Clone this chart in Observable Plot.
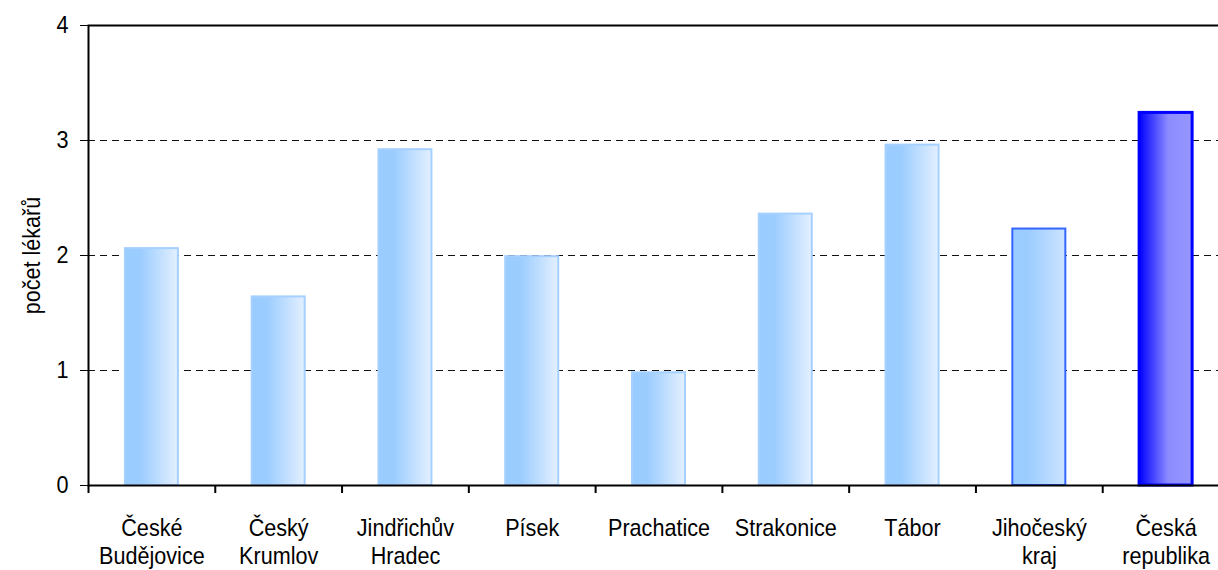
<!DOCTYPE html>
<html><head><meta charset="utf-8">
<script src="https://cdn.jsdelivr.net/npm/d3@7"></script>
<script src="https://cdn.jsdelivr.net/npm/@observablehq/plot@0.6"></script>
<style>body{margin:0;background:#fff;overflow:hidden}</style>
</head><body><div id="chart"></div>
<script>
const categories = ["České Budějovice","Český Krumlov","Jindřichův Hradec","Písek","Prachatice","Strakonice","Tábor","Jihočeský kraj","Česká republika"];
const labels = ["České\nBudějovice","Český\nKrumlov","Jindřichův\nHradec","Písek","Prachatice","Strakonice","Tábor","Jihočeský\nkraj","Česká\nrepublika"];
const values = [2.06, 1.64, 2.92, 1.99, 0.98, 2.36, 2.96, 2.23, 3.24];
const groups = ["okres","okres","okres","okres","okres","okres","okres","kraj","stat"];
const yTicks = [0, 1, 2, 3, 4];
const gridTicks = [1, 2, 3];
const yLabel = "počet lékařů";

const data = categories.map((c, i) => ({category: c, label: labels[i], value: values[i], group: groups[i]}));
const labelOf = new Map(categories.map((c, i) => [c, labels[i]]));

const FONT = "'Liberation Sans',Arial,sans-serif";
const NARROW = 0.9;
const FS = 24;
const W = 1218, H = 570;
const xRange = [88, 1229];
const step = (xRange[1] - xRange[0]) / categories.length;
const barW = 53;
const inset = (step - barW) / 2;

function defs() {
  const d = d3.create("svg:defs");
  const mk = (id, stops) => {
    const g = d.append("linearGradient").attr("id", id).attr("x1", 0).attr("x2", 1).attr("y1", 0).attr("y2", 0);
    for (const [o, c] of stops) g.append("stop").attr("offset", o).attr("stop-color", c);
  };
  mk("gOkres", [[0, "#99CCFF"], [0.3, "#9CCDFF"], [1, "#E4F0FF"]]);
  mk("gKraj", [[0, "#99CCFF"], [0.3, "#9CCDFF"], [1, "#CCE4FF"]]);
  mk("gStat", [[0, "#0000FF"], [0.08, "#1414FF"], [0.55, "#8C8CFF"], [1, "#9696FF"]]);
  return d.node();
}

const styleOf = {
  okres: {fill: "url(#gOkres)", stroke: "#A6D0FF", strokeWidth: 2},
  kraj: {fill: "url(#gKraj)", stroke: "#3366FF", strokeWidth: 2},
  stat: {fill: "url(#gStat)", stroke: "#0000FF", strokeWidth: 3}
};

const bars = ["okres", "kraj", "stat"].map(g =>
  Plot.barY(data.filter(d => d.group === g), {x: "category", y: "value", insetLeft: inset, insetRight: inset, ...styleOf[g]})
);

const chart = Plot.plot({
  width: W, height: H,
  marginLeft: 88, marginTop: 25, marginBottom: 85, marginRight: 0,
  style: {fontFamily: FONT, fontSize: FS + "px", color: "#000", background: "#fff"},
  x: {domain: categories, range: xRange, padding: 0, round: false, axis: null},
  y: {domain: [0, 4], axis: null},
  marks: [
    defs,
    Plot.ruleY(gridTicks, {stroke: "#111", strokeDasharray: "7,5", strokeWidth: 1}),
    ...bars,
    Plot.frame({stroke: "#000", strokeWidth: 2, insetRight: -14}),
    Plot.axisY({ticks: yTicks, tickSize: 8, tickPadding: 12, tickFormat: d => String(d), stroke: "#000", strokeWidth: 1, label: null, fontSize: FS}),
    Plot.axisX({ticks: categories, tickSize: 8, tickFormat: () => "", dx: -step / 2, stroke: "#000", strokeWidth: 2, label: null}),
    Plot.axisX({ticks: categories, tickSize: 0, tickPadding: 31, tickFormat: d => labelOf.get(d), lineHeight: 1.15, fontSize: FS, label: null}),
    Plot.text([yLabel], {frameAnchor: "left", textAnchor: "middle", lineAnchor: "middle", rotate: -90, dx: -56, fontSize: FS, fill: "#000"})
  ]
});
document.getElementById("chart").append(chart);

// emulate a narrow (Arial Narrow-like) face by squeezing each text along its baseline
chart.querySelectorAll("text").forEach(t => {
  const x = parseFloat(t.getAttribute("x") || 0);
  const tr = t.getAttribute("transform") || "";
  t.setAttribute("transform", `${tr} translate(${x},0) scale(${NARROW},1) translate(${-x},0)`.trim());
});
</script>
</body></html>
